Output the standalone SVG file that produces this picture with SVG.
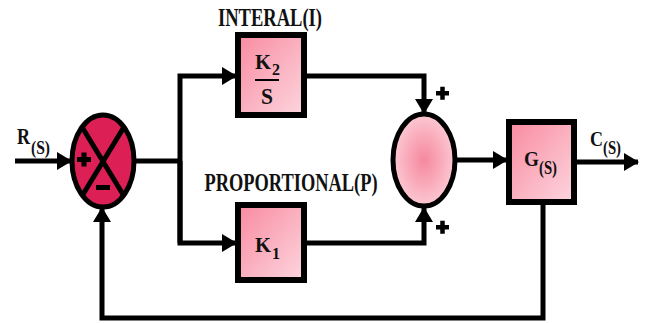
<svg xmlns="http://www.w3.org/2000/svg" width="651" height="323" viewBox="0 0 651 323">
<style>
.ln{fill:none;stroke:#000;stroke-width:5;stroke-linejoin:miter}
.box{stroke:#000;stroke-width:6;fill:url(#boxg)}
.t{font-family:"Liberation Serif","Times New Roman",serif;font-weight:bold;fill:#111}
.sg{fill:#000}
</style>
<defs>
<linearGradient id="boxg" x1="0" y1="0" x2="1" y2="1">
<stop offset="0" stop-color="#f98aa0"/>
<stop offset="1" stop-color="#fcd6de"/>
</linearGradient>
<radialGradient id="sum2g" cx="0.5" cy="0.5" r="0.5">
<stop offset="0" stop-color="#f6889e"/>
<stop offset="1" stop-color="#fcc8d2"/>
</radialGradient>
<marker id="ah" markerUnits="userSpaceOnUse" markerWidth="16" markerHeight="18" refX="14" refY="9" orient="auto">
<path d="M0,0 L15,9 L0,18 Z" fill="#000"/>
</marker>
</defs>

<g id="connectors">
<line class="ln" x1="15" y1="161" x2="71" y2="161" marker-end="url(#ah)"/>
<polyline class="ln" points="134,161 180,161"/>
<polyline class="ln" points="180,243 180,76 236,76" marker-end="url(#ah)"/>
<polyline class="ln" points="180,161 180,243 236,243" marker-end="url(#ah)"/>
<polyline class="ln" points="306,76 424,76 424,113" marker-end="url(#ah)"/>
<polyline class="ln" points="306,243 424,243 424,208" marker-end="url(#ah)"/>
<line class="ln" x1="456" y1="160" x2="507" y2="160" marker-end="url(#ah)"/>
<line class="ln" x1="576" y1="162" x2="638" y2="162" marker-end="url(#ah)"/>
<polyline class="ln" points="543,204 543,318 102,318 102,208" marker-end="url(#ah)"/>
</g>

<g id="r-label">
<text class="t" x="17" y="144" font-size="24" textLength="13" lengthAdjust="spacingAndGlyphs">R</text>
<text class="t" x="31" y="154" font-size="18" textLength="19" lengthAdjust="spacingAndGlyphs">(S)</text>
</g>

<g id="sum1">
<ellipse cx="103" cy="161" rx="31" ry="46" fill="#dc1f55" stroke="#000" stroke-width="5"/>
<line x1="82" y1="127" x2="124" y2="196" stroke="#000" stroke-width="5"/>
<line x1="124" y1="127" x2="82" y2="196" stroke="#000" stroke-width="5"/>
<rect class="sg" x="77" y="157" width="14" height="5"/>
<rect class="sg" x="81.5" y="152.5" width="5" height="14"/>
<rect class="sg" x="96" y="185" width="14" height="5"/>
</g>

<g id="integral">
<text class="t" x="270" y="26" font-size="25" text-anchor="middle" textLength="104" lengthAdjust="spacingAndGlyphs">INTERAL(I)</text>
<rect class="box" x="238" y="35" width="66" height="80"/>
<text class="t" x="255" y="69" font-size="22" textLength="16" lengthAdjust="spacingAndGlyphs">K</text>
<text class="t" x="272" y="75" font-size="16" textLength="8" lengthAdjust="spacingAndGlyphs">2</text>
<line x1="255" y1="80" x2="279" y2="80" stroke="#000" stroke-width="2"/>
<text class="t" x="267" y="104" font-size="24" text-anchor="middle" textLength="12" lengthAdjust="spacingAndGlyphs">S</text>
</g>

<g id="proportional">
<text class="t" x="291" y="191" font-size="25" text-anchor="middle" textLength="173" lengthAdjust="spacingAndGlyphs">PROPORTIONAL(P)</text>
<rect class="box" x="238" y="205" width="66" height="75"/>
<text class="t" x="255" y="252" font-size="22" textLength="16" lengthAdjust="spacingAndGlyphs">K</text>
<text class="t" x="272" y="259" font-size="16" textLength="8" lengthAdjust="spacingAndGlyphs">1</text>
</g>

<g id="sum2">
<ellipse cx="424" cy="160" rx="31" ry="46" fill="url(#sum2g)" stroke="#000" stroke-width="5"/>
<rect class="sg" x="436" y="91" width="13" height="4.5"/>
<rect class="sg" x="440.25" y="86.75" width="4.5" height="13"/>
<rect class="sg" x="436" y="225" width="13" height="4.5"/>
<rect class="sg" x="440.25" y="220.75" width="4.5" height="13"/>
</g>

<g id="plant">
<rect class="box" x="509" y="122" width="65" height="80"/>
<text class="t" x="524" y="166" font-size="22" textLength="15" lengthAdjust="spacingAndGlyphs">G</text>
<text class="t" x="539" y="174" font-size="18" textLength="18" lengthAdjust="spacingAndGlyphs">(S)</text>
</g>

<g id="c-label">
<text class="t" x="590" y="146" font-size="22" textLength="13" lengthAdjust="spacingAndGlyphs">C</text>
<text class="t" x="603" y="154" font-size="18" textLength="18" lengthAdjust="spacingAndGlyphs">(S)</text>
</g>
</svg>
